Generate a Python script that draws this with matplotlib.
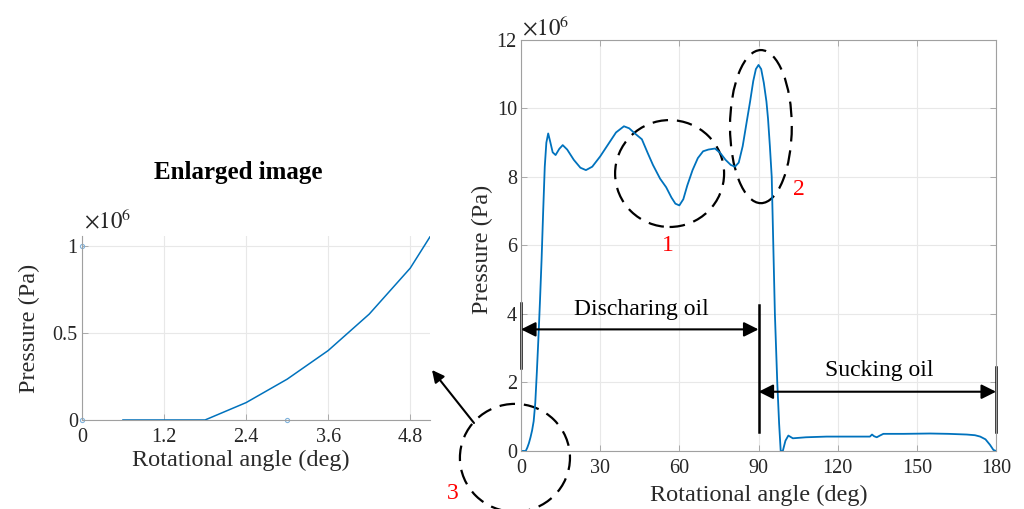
import numpy as np
import matplotlib
matplotlib.use("Agg")
import matplotlib.pyplot as plt
from matplotlib.patches import Ellipse, FancyArrowPatch

plt.rcParams['font.family'] = ['Liberation Serif', 'DejaVu Serif']
plt.rcParams['mathtext.fontset'] = 'stix'

# pressure over one half revolution, pressure in 1e6 Pa
angle = [0, 1, 1.8, 2.4, 3.0, 3.6, 4.2, 4.8, 5.4, 6.0, 6.6, 7.2, 7.8, 8.4, 9.0,
         9.6, 10.3, 11.0, 12.0, 13.1, 14.5, 15.8, 17.5, 20, 22.5, 24.6, 27, 30,
         33, 36, 39, 41, 43, 45.8, 48, 50, 52.7, 55, 57, 58.5, 60, 61.5, 63, 65,
         67, 69, 71, 73.5, 75.5, 77.5, 79.5, 81.1, 82.5, 84, 85.5, 86.8, 88, 89,
         90, 91, 92, 93, 93.6, 94.3, 95, 95.6, 96.2, 97.1, 97.8, 98.4, 99.2,
         100.2, 101.3, 103, 108, 115.8, 125, 132.2, 133, 133.8, 134.8, 136,
         137.3, 145, 155, 162, 168.9, 172, 174, 176, 177.7, 179, 180]
pressure = [0, 0, 0, 0.10, 0.23, 0.40, 0.60, 0.87, 1.4, 2.3, 3.3, 4.4, 5.6, 7.0,
            8.3, 9.0, 9.27, 9.05, 8.72, 8.64, 8.82, 8.93, 8.8, 8.5, 8.27, 8.2,
            8.3, 8.6, 8.95, 9.3, 9.48, 9.42, 9.28, 9.1, 8.7, 8.35, 7.95, 7.7,
            7.4, 7.22, 7.17, 7.35, 7.75, 8.2, 8.55, 8.75, 8.8, 8.83, 8.7, 8.5,
            8.35, 8.3, 8.42, 8.9, 9.6, 10.2, 10.8, 11.15, 11.27, 11.15, 10.75,
            10.2, 9.7, 8.9, 8.0, 6.0, 4.0, 2.0, 0.8, 0.0, 0.0, 0.3, 0.45, 0.37,
            0.40, 0.42, 0.42, 0.42, 0.48, 0.43, 0.40, 0.45, 0.50, 0.50, 0.51,
            0.50, 0.48, 0.46, 0.42, 0.34, 0.18, 0.03, 0]

# start of the discharge stroke
zoom_angle = [0.6, 1.2, 1.8, 2.4, 3.0, 3.6, 4.2, 4.8, 5.4]
zoom_pressure = [0, 0, 0, 0.10, 0.235, 0.40, 0.61, 0.875, 1.25]
tip_angle = [0, 0, 3.0]
tip_pressure = [1.0, 0, 0]

main_xticks = [0, 30, 60, 90, 120, 150, 180]
main_yticks = [0, 2, 4, 6, 8, 10, 12]
zoom_xticks = [0, 1.2, 2.4, 3.6, 4.8]
zoom_yticks = [0, 0.5, 1]

blue = '#0072BD'
grey = '#262626'
spine_c = '#a0a0a0'
label_kw = dict(fontsize=17.5, color='#2a2a2a')

fig = plt.figure(figsize=(10.24, 5.09), dpi=100)


def style(ax):
    ax.grid(True, color='#e8e8e8', lw=0.8)
    ax.set_axisbelow(True)
    ax.tick_params(direction='in', length=4, width=0.6, colors=spine_c,
                   labelcolor=grey, labelsize=14.5, pad=3)
    ax.tick_params(axis='x', pad=6)
    for s in ax.spines.values():
        s.set_color(spine_c)
        s.set_linewidth(0.8)


# main plot
ax = fig.add_axes([0.5088, 0.114, 0.4639, 0.8075])
ax.plot(angle, pressure, color=blue, lw=1.3)
ax.set_xlim(0, 180)
ax.set_ylim(0, 12)
ax.set_xticks(main_xticks)
ax.set_yticks(main_yticks)
style(ax)
ax.tick_params(top=True, right=True)
ax.set_xlabel('Rotational angle (deg)', **label_kw)
ax.set_ylabel('Pressure (Pa)', **label_kw)
ax.xaxis.set_label_coords(0.5, -0.082)
ax.yaxis.set_label_coords(-0.058, 0.49)
fig.text(522, 474, r'$\times10^{6}$', transform=None, fontsize=16.5,
         color=grey, va='baseline')

# dashed circles around the features
ell_kw = dict(fill=False, ec='k', lw=1.6, ls=(0, (7, 4)), clip_on=False)
ax.add_patch(Ellipse((56.3, 8.10), 41.3, 3.12, **ell_kw))
ax.add_patch(Ellipse((90.9, 9.47), 23.4, 4.47, **ell_kw))
ax.add_patch(Ellipse((-2.3, -0.2), 41.7, 3.15, **ell_kw))
for txt, x, y in [('1', 55.7, 6.0), ('2', 105.3, 7.62), ('3', -25.8, -1.23)]:
    ax.text(x, y, txt, color='red', fontsize=17, ha='center', va='center',
            clip_on=False)

# stroke markers
bar_kw = dict(color='k', lw=1.8, clip_on=False)
ax.plot([0, 0], [2.41, 4.31], **bar_kw)
ax.plot([90, 90], [0.56, 4.26], **bar_kw)
ax.plot([180, 180], [0.56, 2.46], **bar_kw)
arr_kw = dict(arrowstyle='<|-|>', color='k', lw=1.5, mutation_scale=22,
              shrinkA=0, shrinkB=0)
ax.annotate('', xy=(0, 3.55), xytext=(90, 3.55), arrowprops=arr_kw)
ax.annotate('', xy=(90, 1.73), xytext=(180, 1.73), arrowprops=arr_kw)
ax.text(45.5, 4.12, 'Discharing oil', fontsize=17, ha='center', va='center')
ax.text(135.9, 2.36, 'Sucking oil', fontsize=17, ha='center', va='center')

# enlarged view of the first few degrees
axz = fig.add_axes([0.080, 0.1749, 0.340, 0.3614])
axz.plot(zoom_angle, zoom_pressure, color=blue, lw=1.1)
axz.plot(tip_angle, tip_pressure, ls='none', marker='o', ms=3,
         mfc='none', mec='#7fb2dc', mew=0.8, clip_on=False)
axz.set_xlim(0, 5.09)
axz.set_ylim(0, 1.06)
axz.set_xticks(zoom_xticks)
axz.set_xticklabels(['0', '1.2', '2.4', '3.6', '4.8'])
axz.set_yticks(zoom_yticks)
axz.set_yticklabels(['0', '0.5', '1'])
style(axz)
axz.spines['top'].set_visible(False)
axz.spines['right'].set_visible(False)
axz.set_xlabel('Rotational angle (deg)', **label_kw)
axz.set_ylabel('Pressure (Pa)', **label_kw)
axz.xaxis.set_label_coords(0.457, -0.16)
axz.yaxis.set_label_coords(-0.12, 0.5)
fig.text(84, 281, r'$\times10^{6}$', transform=None, fontsize=16.5,
         color=grey, va='baseline')
fig.text(238, 336, 'Enlarged image', transform=None, fontsize=18,
         fontweight='bold', ha='center', va='center')

# pointer from circle 3 to the enlarged view
fig.add_artist(FancyArrowPatch(
    (474, 86), (432, 139), transform=None, arrowstyle='-|>',
    mutation_scale=18, lw=1.5, color='k', shrinkA=0, shrinkB=0))

fig.savefig('out.png', dpi=100)
